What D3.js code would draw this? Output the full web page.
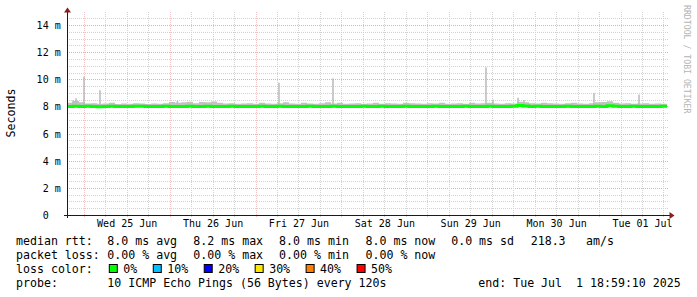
<!DOCTYPE html>
<html><head><meta charset="utf-8">
<script src="https://cdn.jsdelivr.net/npm/d3@7"></script>
<style>
html,body{margin:0;padding:0;background:#fff;}
svg{display:block;}
text{font-family:"DejaVu Sans Mono",monospace;white-space:pre;}
</style></head><body>
<svg id="c" width="697" height="297"></svg>
<script>
// ---------- data ----------
const startTime = "2025-06-24T19:19:00";
const endTime = "2025-07-01T18:59:10";

const yTickValues = [0, 2, 4, 6, 8, 10, 12, 14];           // milliseconds
const xTickDates = ["2025-06-25T12:00:00","2025-06-26T12:00:00","2025-06-27T12:00:00",
  "2025-06-28T12:00:00","2025-06-29T12:00:00","2025-06-30T12:00:00","2025-07-01T12:00:00"];
const xTickLabels = ["Wed 25 Jun","Thu 26 Jun","Fri 27 Jun","Sat 28 Jun","Sun 29 Jun","Mon 30 Jun","Tue 01 Jul"];

// median rtt (ms), 100 equal time bins from start to end
const medianRtt = [8.00,8.02,7.99,8.01,8.00,7.98,8.00,8.01,8.00,7.99,
 8.00,8.01,8.02,8.00,7.99,8.00,8.01,8.00,8.00,7.99,
 8.01,8.00,8.00,8.02,8.00,7.99,8.00,8.01,8.00,8.00,
 7.99,8.00,8.01,8.00,8.00,8.02,8.00,7.99,8.00,8.00,
 8.01,8.00,7.99,8.00,8.01,8.00,8.00,7.99,8.00,8.01,
 8.00,8.00,8.01,7.99,8.00,8.00,8.01,8.00,7.99,8.00,
 8.00,8.01,8.00,8.00,7.99,8.00,8.01,8.00,8.00,8.00,
 8.01,8.00,7.99,8.00,8.02,8.07,8.03,8.00,8.01,8.00,
 7.99,8.00,8.00,8.01,8.00,8.00,7.99,8.00,8.01,8.00,
 8.05,8.02,8.00,8.00,8.01,8.00,7.99,8.00,8.00,8.01];

// top of the ping "smoke" (ms), same 100 bins
const smokeMax = [8.28,8.40,8.30,8.22,8.24,8.20,8.22,8.27,8.18,8.22,
 8.20,8.24,8.22,8.18,8.22,8.20,8.24,8.32,8.27,8.30,
 8.34,8.24,8.32,8.30,8.37,8.27,8.22,8.24,8.20,8.22,
 8.24,8.20,8.27,8.22,8.20,8.24,8.30,8.22,8.20,8.27,
 8.22,8.20,8.24,8.30,8.22,8.27,8.20,8.22,8.24,8.20,
 8.22,8.27,8.20,8.24,8.22,8.20,8.27,8.24,8.22,8.20,
 8.24,8.22,8.27,8.20,8.22,8.24,8.20,8.27,8.22,8.24,
 8.27,8.22,8.20,8.24,8.22,8.35,8.30,8.24,8.22,8.27,
 8.24,8.22,8.20,8.24,8.27,8.22,8.20,8.24,8.30,8.32,
 8.38,8.27,8.22,8.24,8.20,8.22,8.24,8.20,8.22,8.20];

// isolated slow pings (ms)
const spikeTimes = ["2025-06-24T21:00:00","2025-06-24T21:50:00","2025-06-25T00:04:00","2025-06-25T04:32:00",
  "2025-06-26T02:10:00","2025-06-27T06:33:00","2025-06-27T21:39:00","2025-06-29T16:24:00",
  "2025-06-29T18:22:00","2025-06-30T01:21:00","2025-06-30T03:02:00","2025-06-30T22:35:00","2025-07-01T11:10:00"];
const spikeValues = [8.45,8.60,10.20,9.20,8.40,9.75,10.07,10.88,8.50,8.64,8.47,9.00,8.87];

const legendRtt = ["8.0 ms avg","8.2 ms max","8.0 ms min","8.0 ms now","0.0 ms sd","218.3","am/s"];
const legendLoss = ["0.00 % avg","0.00 % max","0.00 % min","0.00 % now"];
const lossLabels = ["0%","10%","20%","30%","40%","50%"];
const lossColors = ["#00ff00","#00c0ff","#0000ff","#ffe800","#ff7f00","#ff0000"];
const probeText = "10 ICMP Echo Pings (56 Bytes) every 120s";
const endText = "end: Tue Jul  1 18:59:10 2025";

// ---------- chart ----------
const svg = d3.select("#c");
const parse = d3.isoParse;
const t0 = parse(startTime), t1 = parse(endTime);
const x = d3.scaleTime().domain([t0, t1]).range([67, 667]);
const y = d3.scaleLinear().domain([0, 15]).range([215, 11.45]);

svg.append("rect").attr("width",697).attr("height",297).attr("fill","#fff");

const minorCol = "#d2d2d2", majorCol = "#e8acac", majorColV = "#f0c4c4";
const grid = svg.append("g").attr("shape-rendering","crispEdges");
// horizontal grid
const minorY = d3.range(0.5, 14.75, 0.5).filter(v => v % 2 !== 0);
grid.selectAll(".hm").data(minorY).join("line")
  .attr("x1",67).attr("x2",668)
  .attr("y1",d=>Math.round(y(d))+0.5).attr("y2",d=>Math.round(y(d))+0.5)
  .attr("stroke",minorCol).attr("stroke-dasharray","1,1");
grid.selectAll(".hM").data(yTickValues.filter(v=>v>0)).join("line")
  .attr("x1",67).attr("x2",668)
  .attr("y1",d=>Math.round(y(d))+0.5).attr("y2",d=>Math.round(y(d))+0.5)
  .attr("stroke",majorCol).attr("stroke-dasharray","1,1");
// vertical grid
const sixH = d3.timeHour.every(6).range(t0, t1);
grid.selectAll(".vm").data(sixH).join("line")
  .attr("x1",d=>Math.round(x(d))+0.5).attr("x2",d=>Math.round(x(d))+0.5)
  .attr("y1",12).attr("y2",218)
  .attr("stroke",d=>d.getHours()===0 ? majorColV : minorCol)
  .attr("stroke-dasharray","1,1");

// smoke
const step = (t1 - t0) / medianRtt.length;
const binT = i => new Date(+t0 + i*step);
const bins = medianRtt.map((m,i)=>({t:binT(i), m, s:smokeMax[i]}));
bins.push({t:t1, m:medianRtt[medianRtt.length-1], s:smokeMax[smokeMax.length-1]});
svg.append("path").datum(bins)
  .attr("d", d3.area().curve(d3.curveStepAfter).x(d=>x(d.t)).y0(d=>y(d.m)).y1(d=>y(d.s)))
  .attr("fill","#c2c2c2");
// spikes
svg.selectAll(".sp").data(spikeTimes.map((t,i)=>({t:parse(t), v:spikeValues[i]}))).join("rect")
  .attr("x",d=>x(d.t)-0.75).attr("width",1.5)
  .attr("y",d=>y(d.v)).attr("height",d=>y(8.0)-y(d.v))
  .attr("fill","#bababa");
// median line
svg.append("path").datum(bins)
  .attr("d", d3.line().curve(d3.curveStepAfter).x(d=>x(d.t)).y(d=>y(d.m)))
  .attr("fill","none").attr("stroke","#00ff00").attr("stroke-width",3);

// axes
const axisCol = "#1a1a1a", arrowCol = "#8c1c1c";
svg.append("line").attr("x1",64).attr("x2",670).attr("y1",215.5).attr("y2",215.5)
  .attr("stroke",axisCol).attr("shape-rendering","crispEdges");
svg.append("line").attr("x1",67.5).attr("x2",67.5).attr("y1",218).attr("y2",11)
  .attr("stroke",axisCol).attr("shape-rendering","crispEdges");
svg.append("path").attr("d","M64,12.5L71,12.5L67.5,7.5Z").attr("fill",arrowCol);
svg.append("path").attr("d","M669.5,212L669.5,219L674.5,215.5Z").attr("fill",arrowCol);

const yAxis = svg.append("g").attr("transform","translate(67,0)")
  .call(d3.axisLeft(y).tickValues(yTickValues).tickSize(0).tickPadding(6.3)
    .tickFormat(d => d===0 ? "0" : d + " m"));
yAxis.select(".domain").remove();
yAxis.selectAll("text").attr("font-family","DejaVu Sans Mono").attr("font-size",10).attr("fill","#000")
  .attr("dy","0.35em")
  .filter(d=>d===0).attr("x",-18.3);

const xAxis = svg.append("g").attr("transform","translate(0,215)")
  .call(d3.axisBottom(x).tickValues(xTickDates.map(parse)).tickSize(0).tickPadding(5)
    .tickFormat((d,i)=>xTickLabels[i]));
xAxis.select(".domain").remove();
xAxis.selectAll("text").attr("font-family","DejaVu Sans Mono").attr("font-size",10).attr("fill","#000");

// y title
svg.append("text").attr("transform","translate(15,113) rotate(-90)")
  .attr("text-anchor","middle").attr("font-size",11.6).attr("fill","#000").text("Seconds");
// watermark
svg.append("text").attr("transform","translate(683.5,5) rotate(90)")
  .attr("font-size",8.2).attr("fill","#b4b4b4").text("RRDTOOL / TOBI OETIKER");

// legend
const fs = 11.6, cw = fs*0.602;
const lg = svg.append("g").attr("font-size",fs).attr("fill","#000");
const colX = [107.3,193.3,279.1,365.5,451.2,530.7,586];
lg.append("text").attr("x",16).attr("y",245).text("median rtt:");
legendRtt.forEach((s,i)=>lg.append("text").attr("x",colX[i]).attr("y",245).text(s));
lg.append("text").attr("x",16).attr("y",259).text("packet loss:");
legendLoss.forEach((s,i)=>lg.append("text").attr("x",colX[i]).attr("y",259).text(s));
lg.append("text").attr("x",16).attr("y",273).text("loss color:");
let tx = 123.3;
lossLabels.forEach((s,i)=>{
  lg.append("rect").attr("x",tx-14.5+0.5).attr("y",264.5).attr("width",8).attr("height",8)
    .attr("fill",lossColors[i]).attr("stroke","#000").attr("stroke-width",1);
  lg.append("text").attr("x",tx).attr("y",273).text(s);
  tx += s.length*cw + 30;
});
lg.append("text").attr("x",16).attr("y",287).text("probe:");
lg.append("text").attr("x",107.3).attr("y",287).text(probeText);
lg.append("text").attr("x",478.3).attr("y",287).text(endText);
</script>
</body></html>
